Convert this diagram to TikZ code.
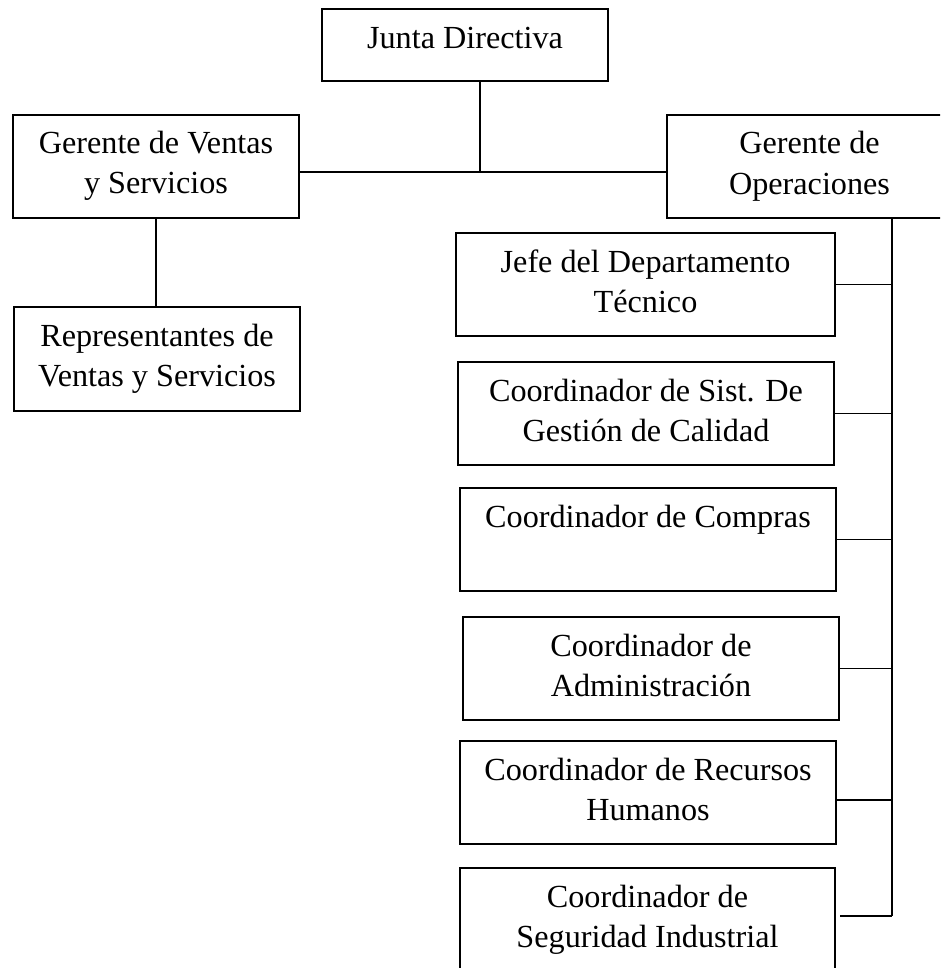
\documentclass[tikz,border=0pt]{standalone}
\usepackage{fontspec}
\setmainfont{Liberation Serif}
\tikzset{
  box/.style={draw, line width=2pt, inner sep=0pt, anchor=north west},
  lbl/.style={anchor=base, align=center, inner sep=0pt, font=\fontsize{32.2}{40.5}\selectfont},
  conn/.style={line width=1.8pt}
}
\begin{document}
\begin{tikzpicture}[x=1pt,y=-1pt]
\useasboundingbox (0,0) rectangle (940,968);
\clip (0,0) rectangle (940,968);
% boxes
\node[box, minimum width=286pt, minimum height=72pt] (jd) at (321,8) {};
\node[box, minimum width=286pt, minimum height=103pt] (gv) at (12,114) {};
\node[box, minimum width=286pt, minimum height=104pt] (rep) at (13,306) {};
\node[box, minimum width=285pt, minimum height=103pt] (ops) at (666,114) {};
\node[box, minimum width=379pt, minimum height=103pt] (jefe) at (455,232) {};
\node[box, minimum width=376pt, minimum height=103pt] (sgc) at (457,361) {};
\node[box, minimum width=376pt, minimum height=103pt] (comp) at (459,487) {};
\node[box, minimum width=376pt, minimum height=103pt] (adm) at (462,616) {};
\node[box, minimum width=376pt, minimum height=103pt] (rh) at (459,740) {};
\node[box, minimum width=375pt, minimum height=103pt] (seg) at (459,867) {};
% labels (base anchor = baseline of the last line)
\node[lbl] (tjd) at ([yshift=-41pt]jd.north) {Junta Directiva};
\node[lbl] (tgv) at ([yshift=-80pt]gv.north) {Gerente de Ventas\\y Servicios};
\node[lbl] (trep) at ([yshift=-80.5pt]rep.north) {Representantes de\\Ventas y Servicios};
\node[lbl] (tops) at ([yshift=-80.5pt]ops.north) {Gerente de\\Operaciones};
\node[lbl] (tjefe) at ([yshift=-80.5pt]jefe.north) {Jefe del Departamento\\Técnico};
\node[lbl] (tsgc) at ([yshift=-80.5pt]sgc.north) {Coordinador de Sist. De\\Gestión de Calidad};
\node[lbl] (tcomp) at ([yshift=-40pt]comp.north) {Coordinador de Compras};
\node[lbl] (tadm) at ([yshift=-80.5pt]adm.north) {Coordinador de\\Administración};
\node[lbl] (trh) at ([yshift=-80.5pt]rh.north) {Coordinador de Recursos\\Humanos};
\node[lbl] (tseg) at ([yshift=-80.5pt]seg.north) {Coordinador de\\Seguridad Industrial};
% connectors
\coordinate (hub) at (480,172);
\coordinate (spine) at (892,916);
\draw[conn] (hub |- jd.south) -- (hub);
\draw[conn] (gv.east |- hub) -- (ops.west |- hub);
\draw[conn] (gv.south) -- (gv.south |- rep.north);
\draw[conn] (spine |- ops.south) -- (spine);
\draw[conn] (jefe.east) -- (jefe.east -| spine);
\draw[conn] (sgc.east) -- (sgc.east -| spine);
\draw[conn] (comp.east) -- (comp.east -| spine);
\draw[conn] (adm.east) -- (adm.east -| spine);
\draw[conn] ([yshift=-7.5pt]rh.east) -- ([yshift=-7.5pt]rh.east -| spine);
\draw[conn] ([xshift=4pt]seg.east |- spine) -- (spine);
\end{tikzpicture}
\end{document}
